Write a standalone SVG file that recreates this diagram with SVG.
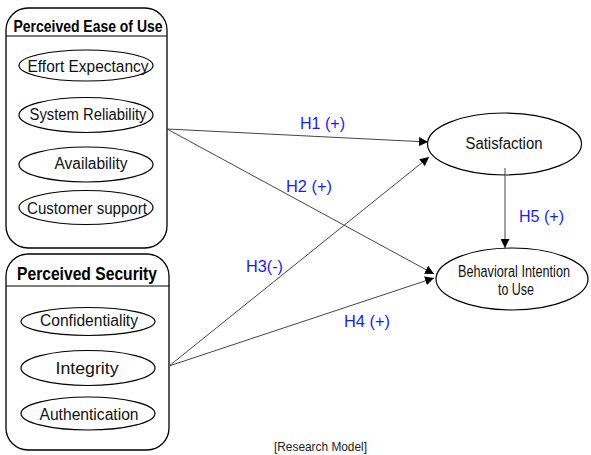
<svg xmlns="http://www.w3.org/2000/svg" width="591" height="455" viewBox="0 0 591 455">
<style>
.box{fill:#fff;stroke:#000;stroke-width:1.3}
.el{fill:#fff;stroke:#000;stroke-width:1.2}
.t{font-family:"Liberation Sans",Arial,sans-serif;font-size:16px;fill:#111;text-anchor:middle}
.b{font-family:"Liberation Sans",Arial,sans-serif;font-weight:bold;fill:#000;text-anchor:middle}
.h{font-family:"Liberation Sans",Arial,sans-serif;font-size:16.5px;fill:#1a1aff;text-anchor:start}
.c{stroke:#444;stroke-width:1;fill:none;marker-end:url(#ah)}
.cap{font-family:"Liberation Sans",Arial,sans-serif;font-size:12px;fill:#222;text-anchor:middle}
</style>
<defs>
<marker id="ah" viewBox="0 0 10 10" refX="10" refY="5" markerWidth="9" markerHeight="9" markerUnits="userSpaceOnUse" orient="auto">
<path d="M0,0 L10,5 L0,10 z" fill="#000"/>
</marker>
</defs>
<rect width="591" height="455" fill="#fff"/>
<g id="peou">
<rect class="box" x="6" y="8" width="161" height="240" rx="22"/>
<line x1="6" y1="36" x2="167" y2="36" stroke="#000" stroke-width="1.2"/>
<text class="b" x="88" y="32" font-size="17" textLength="149" lengthAdjust="spacingAndGlyphs">Perceived Ease of Use</text>
</g>
<g id="effort"><ellipse class="el" cx="86" cy="65.5" rx="67" ry="15.5"/><text class="t" x="88" y="72" textLength="121" lengthAdjust="spacingAndGlyphs">Effort Expectancy</text></g>
<g id="reliability"><ellipse class="el" cx="86" cy="115" rx="67" ry="17.5"/><text class="t" x="88" y="120" textLength="117" lengthAdjust="spacingAndGlyphs">System Reliability</text></g>
<g id="availability"><ellipse class="el" cx="86" cy="164.5" rx="67" ry="17.5"/><text class="t" x="91" y="169" textLength="73" lengthAdjust="spacingAndGlyphs">Availability</text></g>
<g id="support"><ellipse class="el" cx="86" cy="207.5" rx="67" ry="17"/><text class="t" x="87" y="214" textLength="120" lengthAdjust="spacingAndGlyphs">Customer support</text></g>
<g id="ps">
<rect class="box" x="6" y="254" width="163" height="196" rx="22"/>
<line x1="6" y1="286" x2="169" y2="286" stroke="#000" stroke-width="1.2"/>
<text class="b" x="87" y="280" font-size="18.5" textLength="140" lengthAdjust="spacingAndGlyphs">Perceived Security</text>
</g>
<g id="confidentiality"><ellipse class="el" cx="88" cy="321.5" rx="67" ry="14"/><text class="t" x="89" y="326" textLength="98" lengthAdjust="spacingAndGlyphs">Confidentiality</text></g>
<g id="integrity"><ellipse class="el" cx="88" cy="368" rx="67" ry="17.5"/><text class="t" x="87" y="374" textLength="63" lengthAdjust="spacingAndGlyphs">Integrity</text></g>
<g id="authentication"><ellipse class="el" cx="88" cy="413.5" rx="67" ry="16.5"/><text class="t" x="89" y="420" textLength="99" lengthAdjust="spacingAndGlyphs">Authentication</text></g>
<g id="satisfaction"><ellipse class="el" cx="504.5" cy="144" rx="77" ry="31"/><text class="t" x="504" y="149" textLength="77" lengthAdjust="spacingAndGlyphs">Satisfaction</text></g>
<g id="intention"><ellipse class="el" cx="512" cy="279" rx="76" ry="31"/>
<text class="t" x="514" y="277" font-size="13.5" textLength="112" lengthAdjust="spacingAndGlyphs">Behavioral Intention</text>
<text class="t" x="516" y="295" font-size="13.5" textLength="36" lengthAdjust="spacingAndGlyphs">to Use</text></g>
<g id="connectors">
<line class="c" x1="167" y1="129" x2="428" y2="142"/>
<line class="c" x1="167" y1="129" x2="434" y2="274"/>
<line class="c" x1="169" y1="366" x2="429" y2="157"/>
<line class="c" x1="169" y1="366" x2="434" y2="278"/>
<line class="c" x1="505" y1="168" x2="505" y2="248"/>
</g>
<g id="labels">
<text class="h" x="300" y="129" textLength="45" lengthAdjust="spacingAndGlyphs">H1 (+)</text>
<text class="h" x="286" y="192" textLength="46" lengthAdjust="spacingAndGlyphs">H2 (+)</text>
<text class="h" x="246" y="272" textLength="37" lengthAdjust="spacingAndGlyphs">H3(-)</text>
<text class="h" x="344" y="327" textLength="46" lengthAdjust="spacingAndGlyphs">H4 (+)</text>
<text class="h" x="519" y="222" textLength="45" lengthAdjust="spacingAndGlyphs">H5 (+)</text>
</g>
<text class="cap" x="320.5" y="451" textLength="93" lengthAdjust="spacingAndGlyphs">[Research Model]</text>
</svg>
